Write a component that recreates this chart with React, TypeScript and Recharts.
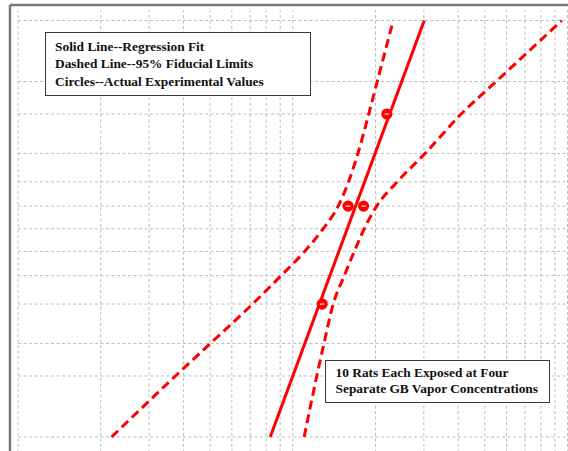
import {
  ComposedChart,
  Line,
  Scatter,
  XAxis,
  YAxis,
  ReferenceLine,
} from "recharts";

// response levels (percent of rats dying) used for grid and for the limit curves
const RESPONSE_PCT = [1, 5, 10, 20, 30, 40, 50, 60, 70, 80, 90, 95, 99];

// concentration grid (log axis)
const CONC_GRID = [1, 2, 3, 4, 5, 6, 7, 8, 9, 10, 20, 30, 40, 50, 60, 70, 80, 90, 100];

// 95% fiducial limits, concentration at each response level
const LOWER_LIMIT = [2.19, 3.74, 5.01, 7.14, 9.07, 11.05, 12.9, 14.63, 15.95, 17.26, 18.9, 20.3, 23.2];
const UPPER_LIMIT = [11.0, 12.23, 12.99, 14.03, 15.4, 16.75, 18.2, 20.2, 24.0, 30.3, 41.0, 55.0, 95.3];

// regression fit end points
const FIT_PCT = [1, 99];
const FIT_CONC = [8.28, 30.1];

// experimental values: 10 rats per concentration
const OBS_CONC = [12.8, 15.9, 18.1, 22.0];
const OBS_PCT = [20, 60, 60, 90];

const RED = "#ff0000";
const GRID = "#bcbcbc";

// inverse normal (Abramowitz & Stegun 26.2.23) -> probit scale
function probit(pct: number) {
  const p = pct / 100;
  const q = p < 0.5 ? p : 1 - p;
  const t = Math.sqrt(-2 * Math.log(q));
  const z =
    t -
    (2.515517 + 0.802853 * t + 0.010328 * t * t) /
      (1 + 1.432788 * t + 0.189269 * t * t + 0.001308 * t * t * t);
  return p < 0.5 ? -z : z;
}

const lower = RESPONSE_PCT.map((pct, i) => ({ c: LOWER_LIMIT[i], p: probit(pct) }));
const upper = RESPONSE_PCT.map((pct, i) => ({ c: UPPER_LIMIT[i], p: probit(pct) }));
const fit = FIT_PCT.map((pct, i) => ({ c: FIT_CONC[i], p: probit(pct) }));
const observed = OBS_PCT.map((pct, i) => ({ c: OBS_CONC[i], p: probit(pct) }));

const X_MIN = 0.935;
const X_MAX = 125.9;

function ObsDot(props: any) {
  const { cx, cy } = props;
  return (
    <g>
      <circle cx={cx} cy={cy} r={5.6} fill={RED} />
      <line x1={cx - 2.3} x2={cx + 2.3} y1={cy} y2={cy} stroke="#fff" strokeWidth={1} />
    </g>
  );
}

const boxStyle: React.CSSProperties = {
  position: "absolute",
  background: "#fff",
  border: "1.5px solid #3a3a3a",
  fontFamily: "'Liberation Serif', 'Times New Roman', serif",
  fontWeight: "bold",
  fontSize: 13.4,
  color: "#111",
  boxSizing: "border-box",
  whiteSpace: "nowrap",
};

export default function App() {
  return (
    <div
      style={{
        position: "absolute",
        left: 0,
        top: 0,
        width: 568,
        height: 451,
        overflow: "hidden",
        background: "#fff",
      }}
    >
      <ComposedChart
        width={595}
        height={460}
        margin={{ top: 5, right: 0, bottom: 7.5, left: 10 }}
      >
        <XAxis
          dataKey="c"
          type="number"
          scale="log"
          domain={[X_MIN, X_MAX]}
          allowDataOverflow
          hide
        />
        <YAxis dataKey="p" type="number" domain={[-2.5, 2.5]} allowDataOverflow hide />

        {CONC_GRID.map((c) => (
          <ReferenceLine
            key={"v" + c}
            segment={[
              { x: c, y: -2.5 },
              { x: c, y: 2.44 },
            ]}
            stroke={GRID}
            strokeDasharray="3 2.5"
            ifOverflow="hidden"
          />
        ))}
        {RESPONSE_PCT.map((pct) => (
          <ReferenceLine
            key={"h" + pct}
            segment={[
              { x: 1, y: probit(pct) },
              { x: X_MAX, y: probit(pct) },
            ]}
            stroke={GRID}
            strokeDasharray="3 2.5"
            ifOverflow="hidden"
          />
        ))}
        <ReferenceLine y={2.5} stroke="#7a7a7a" strokeWidth={2.5} />
        <ReferenceLine x={X_MIN} stroke="#7a7a7a" strokeWidth={2.5} />

        <Line
          data={lower}
          dataKey="p"
          type="monotone"
          stroke={RED}
          strokeWidth={3}
          strokeDasharray="9 5"
          dot={false}
          isAnimationActive={false}
        />
        <Line
          data={upper}
          dataKey="p"
          type="monotone"
          stroke={RED}
          strokeWidth={3}
          strokeDasharray="9 5"
          dot={false}
          isAnimationActive={false}
        />
        <Line
          data={fit}
          dataKey="p"
          type="linear"
          stroke={RED}
          strokeWidth={3}
          dot={false}
          isAnimationActive={false}
        />
        <Scatter data={observed} dataKey="p" shape={ObsDot} isAnimationActive={false} />
      </ComposedChart>

      <div
        style={{
          ...boxStyle,
          left: 45,
          top: 32,
          width: 266,
          height: 64,
          padding: "4.5px 0 0 9px",
          lineHeight: "17.5px",
        }}
      >
        <div>Solid Line--Regression Fit</div>
        <div>Dashed Line--95% Fiducial Limits</div>
        <div>Circles--Actual Experimental Values</div>
      </div>

      <div
        style={{
          ...boxStyle,
          left: 325,
          top: 360,
          width: 225,
          height: 43,
          padding: "3.5px 0 0 9.5px",
          lineHeight: "16.7px",
        }}
      >
        <div>10 Rats Each Exposed at Four</div>
        <div>Separate GB Vapor Concentrations</div>
      </div>
    </div>
  );
}
